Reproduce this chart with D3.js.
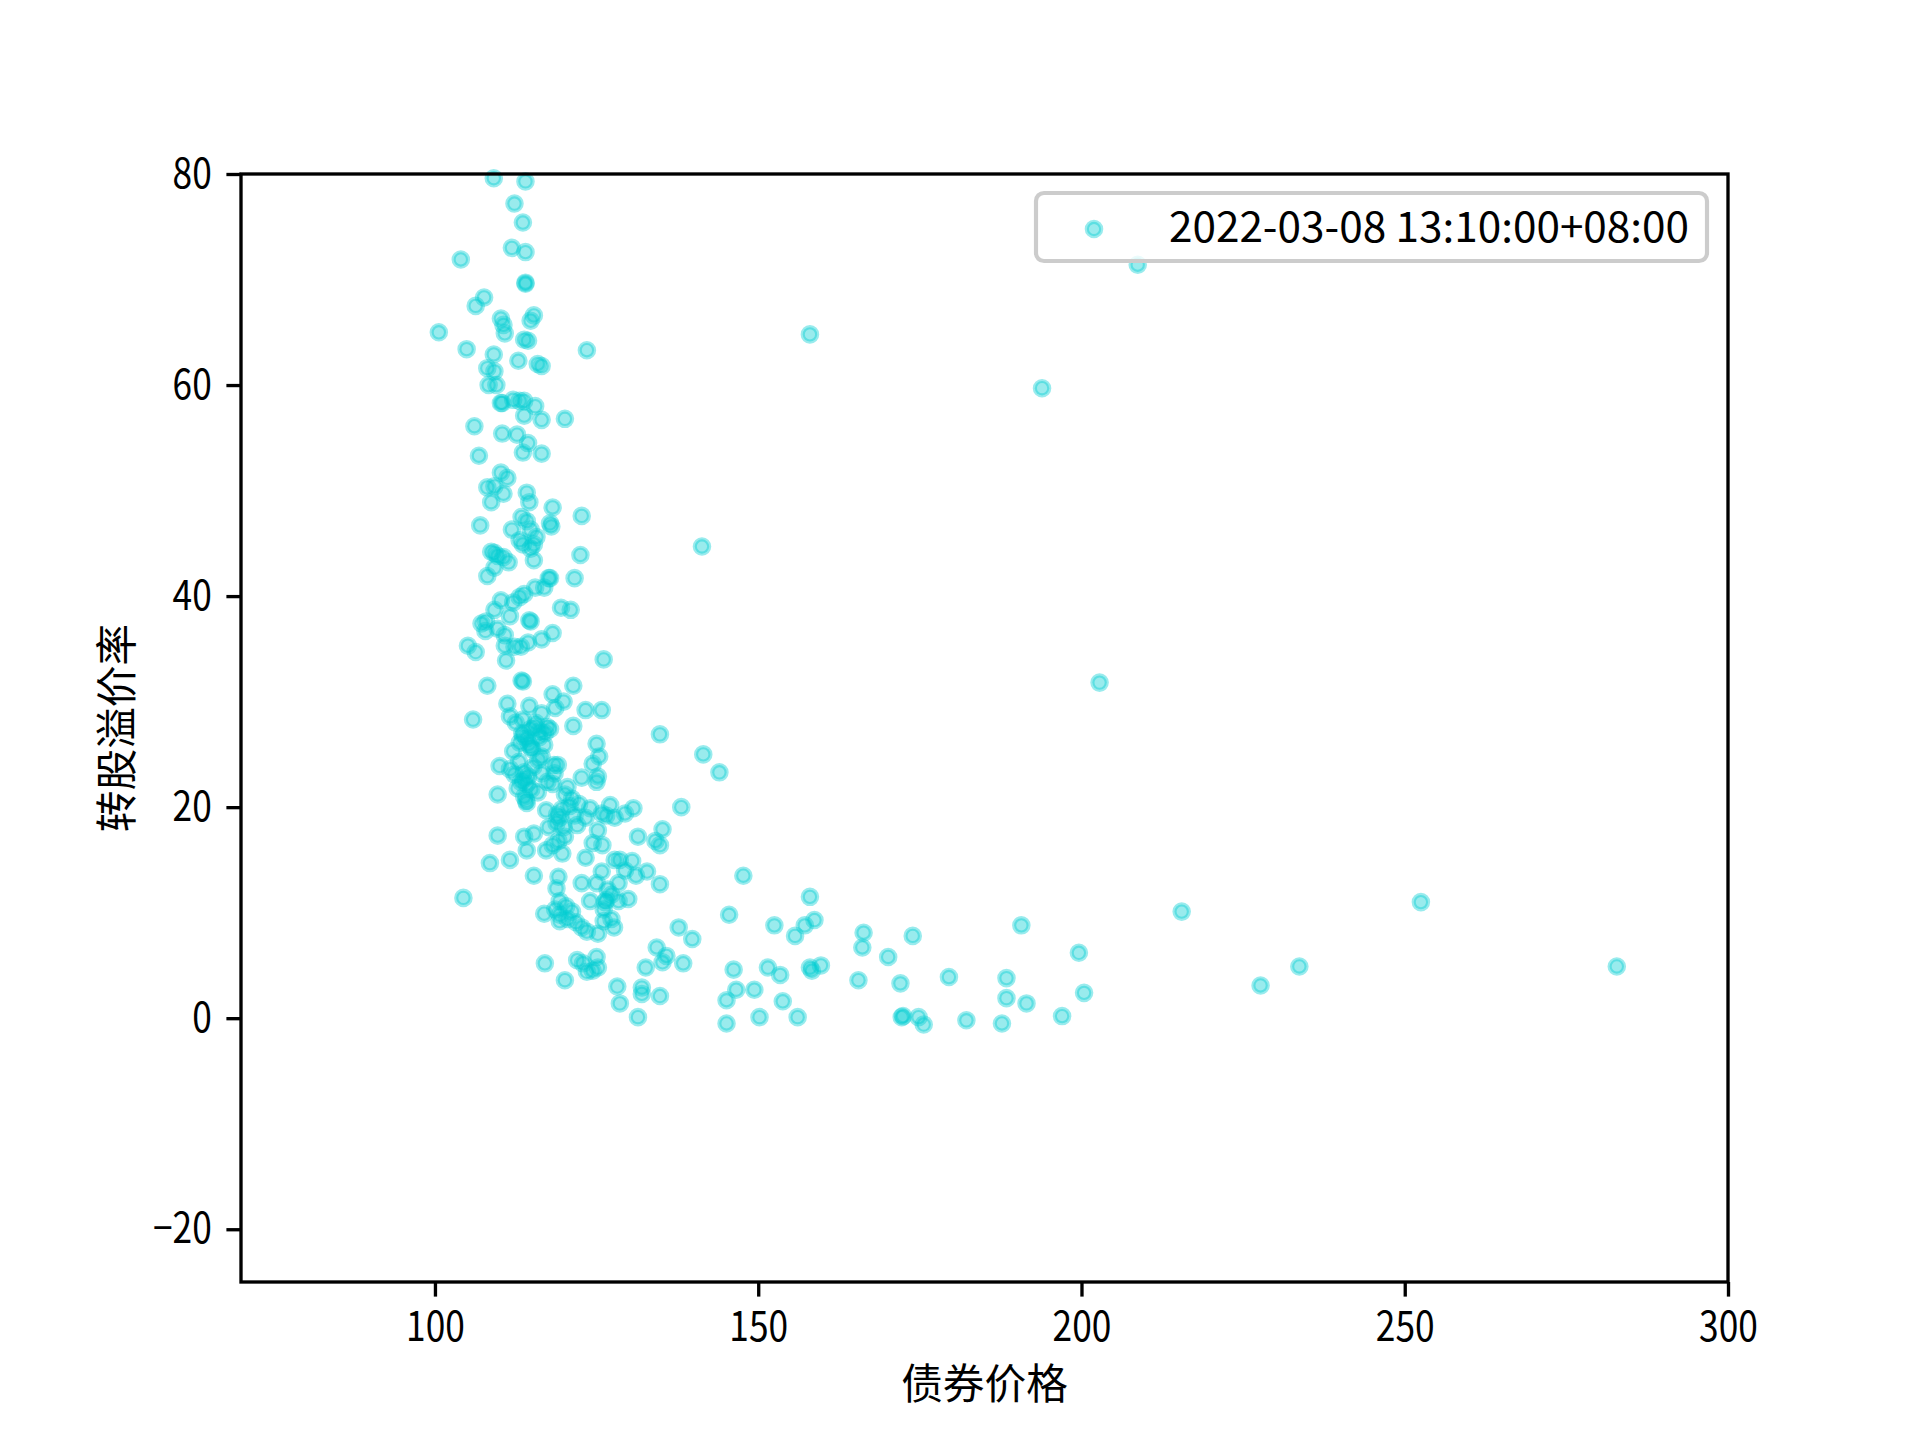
<!DOCTYPE html>
<html>
<head>
<meta charset="utf-8">
<script src="https://cdn.jsdelivr.net/npm/d3@7"></script>
<style>
  html, body { margin: 0; padding: 0; background: #fff; }
  svg { display: block; }
  text { font-family: "Noto Sans CJK SC", "DejaVu Sans", sans-serif; }
</style>
</head>
<body>
<svg id="chart" width="1920" height="1440"></svg>
<script>
// ---- data (bond price, conversion premium %) ----
const seriesLabel = "2022-03-08 13:10:00+08:00";
const xTicks = [100, 150, 200, 250, 300];
const yTicks = [-20, 0, 20, 40, 60, 80];
const xLabel = "债券价格";
const yLabel = "转股溢价率";

const bondPrice = [
  109.1,114.0,112.3,113.6,111.9,114.0,104.0,114.0,114.0,208.7,100.6,106.3,107.6,110.2,110.6,110.8,104.9,115.3,114.8,113.8,114.4,
  109.1,112.9,115.9,116.5,108.1,109.2,108.3,109.5,123.5,158.0,193.9,110.2,110.4,112.1,113.1,113.8,115.5,113.8,116.5,120.1,106.1,
  110.4,112.7,114.4,106.8,113.6,116.5,110.2,111.2,108.1,109.2,110.6,114.2,108.7,114.6,118.2,113.4,114.2,122.7,118.0,117.8,107.0,
  111.9,114.8,113.1,115.7,115.3,113.6,109.2,108.7,109.7,110.6,114.8,122.5,111.4,115.3,109.2,108.1,117.6,117.8,121.6,141.3,115.5,
  116.9,113.1,113.8,110.2,112.1,119.5,121.0,109.2,107.2,107.9,114.6,114.8,111.6,107.8,109.7,110.8,118.2,116.5,114.4,113.3,112.3,
  110.8,105.1,106.3,111.0,126.1,202.8,113.4,113.6,108.1,121.4,118.2,119.9,111.2,114.6,118.6,123.3,125.8,116.5,105.9,111.6,112.5,
  113.6,117.4,117.8,114.8,115.5,121.4,134.8,113.6,114.2,116.1,113.1,116.9,125.0,112.1,114.8,141.5,125.4,116.5,110.0,118.4,119.0,
  124.4,111.6,112.3,113.8,114.4,116.5,144.0,122.7,125.0,125.2,113.3,114.2,117.4,118.2,120.5,109.7,115.9,113.8,114.2,120.1,121.2,
  122.3,127.1,124.0,117.2,130.7,138.1,118.9,119.3,121.6,123.3,125.8,126.5,127.8,129.4,118.8,119.9,117.6,122.0,125.2,115.3,113.8,
  109.7,131.4,135.2,134.1,134.8,120.1,119.1,118.2,117.2,119.7,124.4,125.9,114.2,108.5,111.6,123.3,127.8,128.6,130.5,129.4,125.8,
  132.8,115.3,119.1,131.1,147.7,128.4,134.8,122.7,125.0,126.7,127.3,118.8,104.4,124.0,158.0,215.5,252.5,126.3,126.5,129.9,119.3,
  120.3,128.4,118.6,119.3,121.2,126.1,116.9,145.5,120.5,121.8,119.3,126.1,127.3,152.5,158.7,157.2,190.7,122.7,123.5,125.2,127.7,
  137.7,139.8,155.7,166.3,173.9,166.1,134.3,135.8,135.2,125.0,122.0,122.9,117.0,138.4,170.1,125.2,124.4,123.5,132.6,146.2,151.5,
  159.7,158.0,158.3,233.7,282.8,153.4,179.5,188.4,165.5,120.1,199.6,128.2,172.0,227.7,146.6,149.4,132.0,132.0,200.4,134.8,145.1,
  153.8,188.4,191.5,128.6,131.4,150.2,156.1,172.2,172.4,174.8,175.6,182.2,187.7,197.0,145.1,
  113.5,114.5,115.0,116.0,113.0,112.8,114.9,115.6,116.2,113.7,114.1,115.2,117.0,118.5,119.6,120.8
];
const premium = [
  79.6,79.3,77.2,75.4,73.0,72.6,71.9,69.7,69.6,71.4,65.0,67.5,68.3,66.3,65.7,64.9,63.4,66.6,66.1,64.3,64.2,
  62.9,62.3,62.0,61.8,61.6,61.3,60.0,60.0,63.3,64.8,59.7,58.3,58.3,58.6,58.5,58.5,58.0,57.1,56.7,56.8,56.1,
  55.4,55.3,54.5,53.3,53.6,53.5,51.7,51.2,50.3,50.4,49.7,49.8,48.9,48.9,48.4,47.5,47.1,47.6,46.6,46.9,46.7,
  46.3,46.3,45.3,45.6,44.9,44.9,44.1,44.2,43.8,43.7,44.5,43.9,43.2,43.4,42.7,41.9,41.7,41.7,41.7,44.7,40.8,
  40.8,39.9,40.2,39.6,39.4,38.9,38.7,38.7,37.4,37.6,37.7,37.6,38.1,36.7,36.9,36.3,36.5,35.9,35.6,35.2,35.2,
  35.3,35.3,34.7,33.9,34.0,31.8,32.0,31.9,31.5,31.5,30.7,30.0,29.8,29.6,29.4,29.2,29.2,28.9,28.3,28.6,28.0,
  28.3,27.6,27.4,27.4,27.6,27.7,26.9,26.7,26.5,26.6,26.1,25.9,26.0,25.3,25.7,25.0,24.8,24.8,23.9,24.0,24.0,
  24.1,23.6,23.1,23.3,22.9,23.2,23.3,22.8,22.4,22.9,22.4,22.2,22.4,22.2,21.9,21.2,21.4,21.0,20.4,21.2,20.8,
  20.3,20.2,19.9,19.7,19.9,20.0,19.3,19.0,19.2,19.0,19.4,19.2,19.0,19.4,18.5,18.1,18.1,18.3,17.8,17.5,17.2,
  17.3,17.2,17.9,16.8,16.4,17.2,16.8,16.4,15.9,15.6,16.6,16.4,15.9,14.7,15.0,15.2,15.0,15.0,14.9,14.0,13.9,
  13.9,13.5,13.4,13.5,13.5,12.8,12.7,12.8,12.8,12.2,11.7,12.3,11.4,11.1,11.5,10.1,11.0,11.0,11.2,11.3,11.1,
  10.6,11.1,10.3,9.8,10.1,10.3,9.9,9.8,9.4,9.1,9.2,9.2,9.4,8.8,9.3,8.8,8.8,8.6,8.2,8.0,8.6,
  8.6,7.5,7.8,8.1,7.8,6.7,6.7,5.9,5.3,5.8,5.5,5.2,5.2,5.2,5.8,4.8,4.5,4.4,4.8,4.6,4.8,
  5.0,4.8,4.5,4.9,4.9,4.1,3.9,3.8,3.6,3.6,6.2,3.0,3.3,3.1,2.7,2.7,2.9,2.3,2.4,2.1,1.7,
  1.6,1.9,1.4,1.4,0.1,0.1,0.1,0.1,0.2,0.1,-0.6,-0.2,-0.5,0.2,-0.5,
  27.0,26.0,25.5,24.5,24.3,21.8,21.7,28.0,27.2,22.6,20.6,23.8,27.0,23.2,19.8,20.1
];

const data = bondPrice.map((x, i) => ({x, y: premium[i]}));

// ---- layout ----
const svg = d3.select("#chart");
const m = {left: 241, right: 1728, top: 174, bottom: 1282};
const fs = 41.7;

const x = d3.scaleLinear().domain([70, 300]).range([m.left, m.right]);
const y = d3.scaleLinear().domain([-25, 80]).range([m.bottom, m.top]);

const color = "rgb(0,206,209)";

// points
svg.append("g")
  .selectAll("circle").data(data).join("circle")
  .attr("cx", d => x(d.x)).attr("cy", d => y(d.y))
  .attr("r", 7.2)
  .attr("fill", color).attr("fill-opacity", 0.4)
  .attr("stroke", color).attr("stroke-opacity", 0.4)
  .attr("stroke-width", 4.17);

// axes
const xAxis = d3.axisBottom(x).tickValues(xTicks).tickSize(14.6).tickPadding(14.6);
const yAxis = d3.axisLeft(y).tickValues(yTicks).tickSize(14.6).tickPadding(14.6)
  .tickFormat(d => d < 0 ? "\u2212" + Math.abs(d) : String(d));

const gx = svg.append("g").attr("transform", `translate(0,${m.bottom})`).call(xAxis);
const gy = svg.append("g").attr("transform", `translate(${m.left},0)`).call(yAxis);
[gx, gy].forEach(g => {
  g.select(".domain").remove();
  g.selectAll(".tick line").attr("stroke", "#000").attr("stroke-width", 3.33);
  g.selectAll(".tick text").attr("fill", "#000").style("font-size", fs + "px")
    .style("font-family", '"Noto Sans CJK SC", sans-serif')
    .each(function() {
      const t = d3.select(this);
      t.attr("textLength", t.text().length * fs * 0.47).attr("lengthAdjust", "spacingAndGlyphs");
    });
});

// frame
svg.append("rect")
  .attr("x", m.left).attr("y", m.top)
  .attr("width", m.right - m.left).attr("height", m.bottom - m.top)
  .attr("fill", "none").attr("stroke", "#000").attr("stroke-width", 3.33);

// axis labels
svg.append("text").attr("x", (m.left + m.right) / 2).attr("y", 1381)
  .attr("text-anchor", "middle").attr("dominant-baseline", "central")
  .style("font-size", fs + "px").text(xLabel);
svg.append("text").attr("transform", `translate(114,${(m.top + m.bottom) / 2}) rotate(-90)`)
  .attr("text-anchor", "middle").attr("dominant-baseline", "central")
  .style("font-size", fs + "px").text(yLabel);

// legend
const lg = svg.append("g");
lg.append("rect").attr("x", 1036).attr("y", 193).attr("width", 671).attr("height", 68)
  .attr("rx", 8).attr("fill", "#fff").attr("fill-opacity", 0.8)
  .attr("stroke", "#cccccc").attr("stroke-width", 4.17);
lg.append("circle").attr("cx", 1094).attr("cy", 229).attr("r", 7.2)
  .attr("fill", color).attr("fill-opacity", 0.4)
  .attr("stroke", color).attr("stroke-opacity", 0.4).attr("stroke-width", 4.17);
lg.append("text").attr("x", 1169).attr("y", 224).attr("dominant-baseline", "central")
  .style("font-size", fs + "px").attr("textLength", 520).attr("lengthAdjust", "spacingAndGlyphs")
  .text(seriesLabel);
</script>
</body>
</html>
